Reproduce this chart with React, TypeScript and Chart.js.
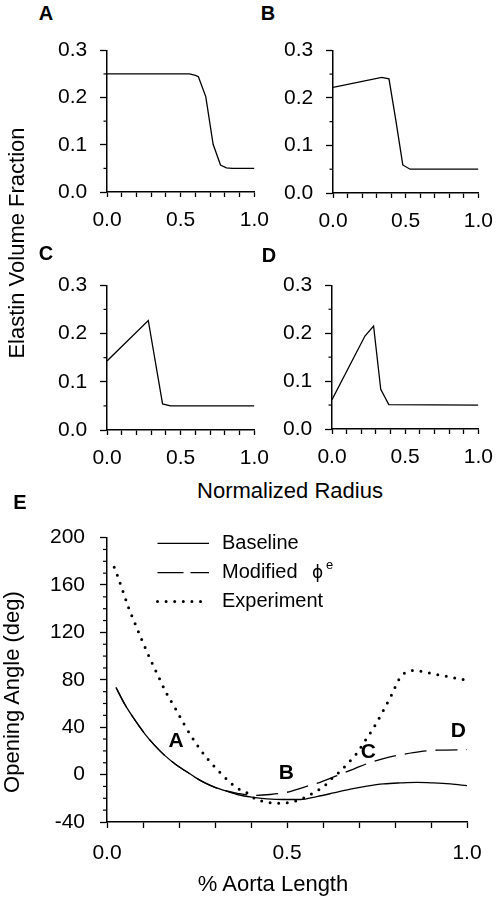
import React, { useEffect, useRef } from 'react';
import { Chart, registerables } from 'chart.js';

const FONT = '"Liberation Sans", Arial, Helvetica, sans-serif';

// ---------- Panels A–D : Elastin volume fraction vs normalized radius ----------
const A_X = [0, 0.3, 0.56, 0.6, 0.62, 0.67, 0.72, 0.77, 0.81, 0.85, 1.0];
const A_Y = [0.25, 0.25, 0.25, 0.247, 0.244, 0.202, 0.101, 0.057, 0.051, 0.05, 0.05];
const B_X = [0, 0.335, 0.385, 0.43, 0.48, 0.53, 1.0];
const B_Y = [0.222, 0.243, 0.24, 0.157, 0.059, 0.05, 0.05];
const C_X = [0, 0.28, 0.377, 0.43, 1.0];
const C_Y = [0.143, 0.227, 0.054, 0.05, 0.05];
const D_X = [0, 0.225, 0.284, 0.333, 0.388, 1.0];
const D_Y = [0.061, 0.194, 0.215, 0.083, 0.051, 0.05];

const SMALL_X_TICKS = [0, 0.1, 0.2, 0.3, 0.4, 0.5, 0.6, 0.7, 0.8, 0.9, 1.0];
const SMALL_X_LABELED = [0, 0.5, 1.0];
const SMALL_Y_TICKS = [0, 0.1, 0.2, 0.3];
const SMALL_Y_MINOR = [0.05, 0.15, 0.25];

// ---------- Panel E : opening angle vs % aorta length ----------
const E_BASE_X = [0.025, 0.05, 0.073, 0.106, 0.133, 0.161, 0.189, 0.217, 0.245, 0.272, 0.3, 0.328, 0.365, 0.402, 0.444, 0.491, 0.537, 0.583, 0.629, 0.676, 0.722, 0.768, 0.815, 0.861, 0.907, 0.954, 1.0];
const E_BASE_Y = [73.5, 59, 48, 34, 24.5, 16, 9, 3.3, -2.3, -7, -10.7, -13.5, -17, -19, -20.4, -21, -21, -18.5, -15.5, -12.3, -9.8, -7.9, -7, -6.5, -7, -7.9, -9.3];
const E_MOD_X = [0.025, 0.05, 0.073, 0.106, 0.133, 0.161, 0.189, 0.217, 0.245, 0.272, 0.3, 0.328, 0.365, 0.407, 0.453, 0.5, 0.546, 0.592, 0.639, 0.685, 0.731, 0.778, 0.824, 0.87, 0.917, 1.0];
const E_MOD_Y = [73.5, 59, 48, 34, 24.5, 16, 9, 3.3, -2.3, -7, -10.7, -13.5, -16, -17.5, -16.8, -14.9, -10.7, -6.5, -0.9, 4.7, 10.2, 14.4, 17.2, 19.4, 20.6, 21];
const E_EXP_X = [0.02, 0.029, 0.045, 0.061, 0.08, 0.099, 0.12, 0.142, 0.164, 0.19, 0.216, 0.246, 0.28, 0.323, 0.347, 0.37, 0.393, 0.416, 0.439, 0.462, 0.486, 0.509, 0.535, 0.557, 0.58, 0.603, 0.626, 0.65, 0.671, 0.692, 0.722, 0.738, 0.765, 0.79, 0.813, 0.829, 0.852, 0.875, 0.898, 0.921, 0.946, 0.969, 0.993];
const E_EXP_Y = [175, 168, 154, 140, 126, 112, 97.6, 83.4, 69.4, 55.7, 41.5, 27, 13, -1, -7.9, -12.9, -16, -21.3, -22.7, -24.1, -24.1, -23.3, -21.3, -18.2, -14.3, -9.9, -2.9, 3.3, 10.2, 17.2, 31, 38.2, 52.6, 66.9, 81.4, 86.1, 87.8, 87, 85.6, 84.2, 82.8, 81.4, 80];

const E_X_TICKS = [0, 0.1, 0.2, 0.3, 0.4, 0.5, 0.6, 0.7, 0.8, 0.9, 1.0];
const E_X_LABELED = [0, 0.5, 1.0];
const E_Y_TICKS = [-40, 0, 40, 80, 120, 160, 200];
const E_Y_MINOR = [-30, -20, -10, 10, 20, 30, 50, 60, 70, 90, 100, 110, 130, 140, 150, 170, 180, 190];

const LEGEND_LABELS = ['Baseline', 'Modified', 'Experiment'];
const MARKER_LABELS = ['A', 'B', 'C', 'D'];
const MARKER_X = [0.192, 0.498, 0.726, 0.976];
const MARKER_Y = [28.4, 1.6, 19.2, 36.7];

// ---------- plugins ----------
const minorTicksPlugin = {
  id: 'minorTicks',
  afterDraw(chart: any, _args: any, opts: any) {
    if (!opts || !opts.y) return;
    const { ctx, chartArea, scales } = chart;
    ctx.save();
    ctx.strokeStyle = '#000';
    ctx.lineWidth = 1.2;
    opts.y.forEach((v: number) => {
      const p = scales.y.getPixelForValue(v);
      ctx.beginPath();
      ctx.moveTo(chartArea.left - opts.len, p);
      ctx.lineTo(chartArea.left, p);
      ctx.stroke();
    });
    ctx.restore();
  },
};

Chart.register(...registerables, minorTicksPlugin);

const eOverlayPlugin = {
  id: 'eOverlay',
  afterDatasetsDraw(chart: any) {
    const { ctx, chartArea, scales } = chart;
    const { left, top } = chartArea;
    ctx.save();
    ctx.fillStyle = '#000';
    ctx.strokeStyle = '#000';
    const rowsY = [5.7, 35, 64];
    const styles = [
      { dash: [], w: 1.3, cap: 'butt' },
      { dash: [26, 7], w: 1.3, cap: 'butt' },
      { dash: [0, 8.6], w: 3, cap: 'round' },
    ];
    LEGEND_LABELS.forEach((label, i) => {
      const yy = top + rowsY[i];
      ctx.beginPath();
      ctx.setLineDash(styles[i].dash);
      ctx.lineWidth = styles[i].w;
      ctx.lineCap = styles[i].cap;
      ctx.moveTo(left + 50.5, yy);
      ctx.lineTo(left + 102, yy);
      ctx.stroke();
      ctx.setLineDash([]);
      ctx.font = `20px ${FONT}`;
      ctx.textAlign = 'left';
      ctx.textBaseline = 'middle';
      ctx.fillText(label, left + 115, yy);
    });
    // phi superscript e
    ctx.font = `17px "DejaVu Sans", ${FONT}`;
    ctx.textBaseline = 'middle';
    ctx.fillText('ϕ', left + 205, top + 36);
    ctx.font = `13px ${FONT}`;
    ctx.fillText('e', left + 219, top + 28);

    // marker letters
    ctx.font = `bold 21px ${FONT}`;
    ctx.textAlign = 'center';
    ctx.textBaseline = 'middle';
    MARKER_LABELS.forEach((m, i) => {
      ctx.fillText(m, scales.x.getPixelForValue(MARKER_X[i]), scales.y.getPixelForValue(MARKER_Y[i]));
    });
    ctx.restore();
  },
};

// ---------- layout ----------
type Box = { left: number; top: number; width: number; height: number };
type Plot = { l: number; t: number; r: number; b: number };

const near = (arr: number[], v: number) => arr.some((a) => Math.abs(a - v) < 1e-9);

function axisCommon(tickLength: number, padding: number) {
  return {
    grid: { display: true, drawOnChartArea: false, drawTicks: true, tickLength, tickColor: '#000', tickWidth: 1.3 },
    border: { display: true, color: '#000', width: 1.5 },
    ticksBase: { color: '#000', padding, font: { family: FONT, size: 21 }, autoSkip: false, maxRotation: 0, minRotation: 0 },
  };
}

function smallConfig(xs: number[], ys: number[], box: Box, plot: Plot): any {
  const xa = axisCommon(5, 11);
  const ya = axisCommon(7, 12.7);
  return {
    type: 'line',
    data: {
      datasets: [
        {
          data: xs.map((x, i) => ({ x, y: ys[i] })),
          borderColor: '#000',
          borderWidth: 1.3,
          pointRadius: 0,
          tension: 0,
          fill: false,
        },
      ],
    },
    options: {
      animation: false,
      responsive: false,
      devicePixelRatio: 1,
      layout: { padding: { left: 0, top: plot.t - box.top, right: box.left + box.width - plot.r, bottom: 0 } },
      plugins: { legend: { display: false }, tooltip: { enabled: false }, minorTicks: { y: SMALL_Y_MINOR, len: 3.5 } },
      scales: {
        x: {
          type: 'linear', min: 0, max: 1,
          afterFit: (s: any) => { s.height = box.top + box.height - plot.b; },
          afterBuildTicks: (s: any) => { s.ticks = SMALL_X_TICKS.map((v) => ({ value: v })); },
          ticks: { ...xa.ticksBase, callback: (v: any) => (near(SMALL_X_LABELED, Number(v)) ? Number(v).toFixed(1) : '') },
          grid: xa.grid, border: xa.border,
        },
        y: {
          type: 'linear', min: 0, max: 0.3,
          afterFit: (s: any) => { s.width = plot.l - box.left; },
          afterBuildTicks: (s: any) => { s.ticks = SMALL_Y_TICKS.map((v) => ({ value: v })); },
          ticks: { ...ya.ticksBase, callback: (v: any) => Number(v).toFixed(1) },
          grid: ya.grid, border: ya.border,
        },
      },
    },
  };
}

function eConfig(box: Box, plot: Plot): any {
  const xa = axisCommon(6, 12.2);
  const ya = axisCommon(7, 15);
  const mk = (xs: number[], ys: number[]) => xs.map((x, i) => ({ x, y: ys[i] }));
  return {
    type: 'line',
    data: {
      datasets: [
        { label: 'Baseline', data: mk(E_BASE_X, E_BASE_Y), borderColor: '#000', borderWidth: 1.3, pointRadius: 0, cubicInterpolationMode: 'monotone', fill: false },
        { label: 'Modified', data: mk(E_MOD_X, E_MOD_Y), borderColor: '#000', borderWidth: 1.3, borderDash: [22, 9], pointRadius: 0, cubicInterpolationMode: 'monotone', fill: false },
        { label: 'Experiment', data: mk(E_EXP_X, E_EXP_Y), borderColor: '#000', borderWidth: 3, borderDash: [0, 8.6], borderCapStyle: 'round', pointRadius: 0, cubicInterpolationMode: 'monotone', fill: false },
      ],
    },
    options: {
      animation: false,
      responsive: false,
      devicePixelRatio: 1,
      layout: { padding: { left: 0, top: plot.t - box.top, right: box.left + box.width - plot.r, bottom: 0 } },
      plugins: { legend: { display: false }, tooltip: { enabled: false }, minorTicks: { y: E_Y_MINOR, len: 4 } },
      scales: {
        x: {
          type: 'linear', min: 0, max: 1,
          afterFit: (s: any) => { s.height = box.top + box.height - plot.b; },
          afterBuildTicks: (s: any) => { s.ticks = E_X_TICKS.map((v) => ({ value: v })); },
          ticks: { ...xa.ticksBase, callback: (v: any) => (near(E_X_LABELED, Number(v)) ? Number(v).toFixed(1) : '') },
          grid: xa.grid, border: xa.border,
        },
        y: {
          type: 'linear', min: -40, max: 200,
          afterFit: (s: any) => { s.width = plot.l - box.left; },
          afterBuildTicks: (s: any) => { s.ticks = E_Y_TICKS.map((v) => ({ value: v })); },
          ticks: { ...ya.ticksBase, callback: (v: any) => String(v) },
          grid: ya.grid, border: ya.border,
        },
      },
    },
    plugins: [eOverlayPlugin],
  };
}

function ChartCanvas({ box, config }: { box: Box; config: () => any }) {
  const ref = useRef<HTMLCanvasElement>(null);
  useEffect(() => {
    const chart = new Chart(ref.current as HTMLCanvasElement, config());
    return () => chart.destroy();
  }, []);
  return (
    <canvas
      ref={ref}
      width={box.width}
      height={box.height}
      style={{ position: 'absolute', left: box.left, top: box.top, width: box.width, height: box.height }}
    />
  );
}

function Label({ text, x, y, size, bold, rotate }: { text: string; x: number; y: number; size: number; bold?: boolean; rotate?: boolean }) {
  return (
    <div
      style={{
        position: 'absolute',
        left: x,
        top: y,
        transform: `translate(-50%, -50%)${rotate ? ' rotate(-90deg)' : ''}`,
        fontFamily: FONT,
        fontSize: size,
        fontWeight: bold ? 'bold' : 'normal',
        lineHeight: 1,
        whiteSpace: 'nowrap',
        color: '#000',
      }}
    >
      {text}
    </div>
  );
}

const BOX_A: Box = { left: 0, top: 25, width: 280, height: 215 };
const PLOT_A: Plot = { l: 107, t: 40, r: 261, b: 192 };
const BOX_B: Box = { left: 280, top: 25, width: 224, height: 215 };
const PLOT_B: Plot = { l: 333, t: 41, r: 488, b: 193 };
const BOX_C: Box = { left: 0, top: 260, width: 280, height: 210 };
const PLOT_C: Plot = { l: 107, t: 277, r: 261, b: 430 };
const BOX_D: Box = { left: 280, top: 260, width: 224, height: 210 };
const PLOT_D: Plot = { l: 332, t: 278, r: 486, b: 429 };
const BOX_E: Box = { left: 0, top: 510, width: 504, height: 390 };
const PLOT_E: Plot = { l: 107, t: 535, r: 467, b: 822 };

export default function App() {
  return (
    <div style={{ position: 'absolute', left: 0, top: 0, width: 504, height: 900, overflow: 'hidden', background: '#fff' }}>
      <ChartCanvas box={BOX_A} config={() => smallConfig(A_X, A_Y, BOX_A, PLOT_A)} />
      <ChartCanvas box={BOX_B} config={() => smallConfig(B_X, B_Y, BOX_B, PLOT_B)} />
      <ChartCanvas box={BOX_C} config={() => smallConfig(C_X, C_Y, BOX_C, PLOT_C)} />
      <ChartCanvas box={BOX_D} config={() => smallConfig(D_X, D_Y, BOX_D, PLOT_D)} />
      <ChartCanvas box={BOX_E} config={() => eConfig(BOX_E, PLOT_E)} />

      <Label text="A" x={46} y={13} size={20} bold />
      <Label text="B" x={268} y={13} size={20} bold />
      <Label text="C" x={46} y={253} size={20} bold />
      <Label text="D" x={269} y={255} size={20} bold />
      <Label text="E" x={20} y={502} size={20} bold />

      <Label text="Elastin Volume Fraction" x={17} y={243} size={22} rotate />
      <Label text="Normalized Radius" x={290} y={491} size={22} />
      <Label text="Opening Angle (deg)" x={12} y={692} size={22} rotate />
      <Label text="% Aorta Length" x={273} y={884} size={22} />
    </div>
  );
}
